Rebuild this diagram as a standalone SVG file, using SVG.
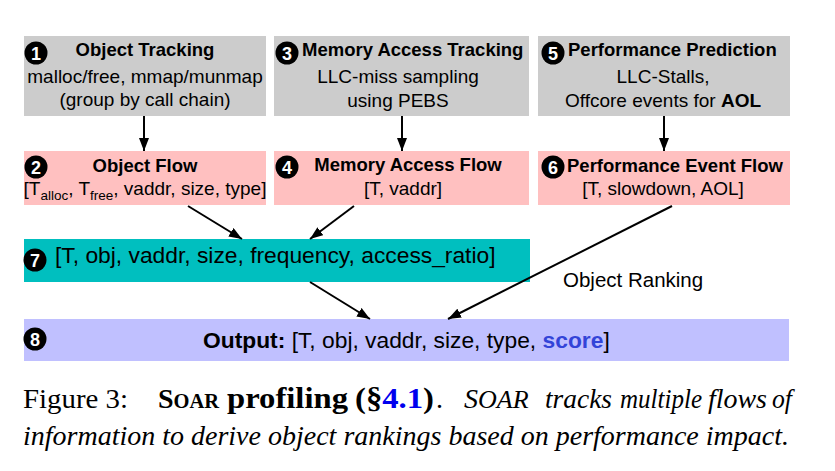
<svg xmlns="http://www.w3.org/2000/svg" width="835" height="471" viewBox="0 0 835 471">
<defs>
<style>
.gray{fill:#cccccc}
.pink{fill:#ffc0c0}
.teal{fill:#00bfbf}
.lav{fill:#c0c0ff}
.t{font-family:"Liberation Sans",Arial,sans-serif;fill:#000}
.title{font-size:18.5px;font-weight:bold}
.body{font-size:19px}
.big{font-size:22.8px}
.num{font-family:"Liberation Sans",Arial,sans-serif;font-size:18px;font-weight:bold;fill:#fff;text-anchor:middle}
.mid{text-anchor:middle}
.cap{font-family:"Liberation Serif","Times New Roman",serif;font-size:28px;fill:#000}
.b{font-weight:bold;font-size:30px}
.i{font-style:italic}
.conn{stroke:#000;stroke-width:2;fill:none;marker-end:url(#ah)}
</style>
<marker id="ah" markerUnits="userSpaceOnUse" markerWidth="14" markerHeight="10" refX="13" refY="5" orient="auto">
<path d="M0,0 L13,5 L0,10 z" fill="#000"/>
</marker>
</defs>
<rect width="835" height="471" fill="#fff"/>

<g id="n1">
<rect class="gray" x="24" y="36" width="242" height="80"/>
<circle cx="36" cy="53" r="11.5" fill="#000"/><text class="num" x="36" y="59.5">1</text>
<text class="t title mid" x="145" y="56">Object Tracking</text>
<text class="t body mid" x="145" y="83">malloc/free, mmap/munmap</text>
<text class="t body mid" x="145" y="106">(group by call chain)</text>
</g>

<g id="n2">
<rect class="pink" x="24" y="151" width="242" height="54"/>
<circle cx="36" cy="167" r="11.5" fill="#000"/><text class="num" x="36" y="173.5">2</text>
<text class="t title mid" x="145" y="172">Object Flow</text>
<text class="t body mid" x="145" y="195">[T<tspan font-size="13.5" dy="5">alloc</tspan><tspan dy="-5">, T</tspan><tspan font-size="13.5" dy="5">free</tspan><tspan dy="-5">, vaddr, size, type]</tspan></text>
</g>

<g id="n3">
<rect class="gray" x="274" y="36" width="255" height="80"/>
<circle cx="287" cy="53" r="11.5" fill="#000"/><text class="num" x="287" y="59.5">3</text>
<text class="t title" x="302" y="56">Memory Access Tracking</text>
<text class="t body mid" x="398" y="83">LLC-miss sampling</text>
<text class="t body mid" x="398" y="107">using PEBS</text>
</g>

<g id="n4">
<rect class="pink" x="274" y="151" width="255" height="54"/>
<circle cx="287" cy="167" r="11.5" fill="#000"/><text class="num" x="287" y="173.5">4</text>
<text class="t title mid" x="408" y="171">Memory Access Flow</text>
<text class="t body mid" x="403" y="195">[T, vaddr]</text>
</g>

<g id="n5">
<rect class="gray" x="538" y="36" width="252" height="80"/>
<circle cx="553" cy="53" r="11.5" fill="#000"/><text class="num" x="553" y="59.5">5</text>
<text class="t title" x="568" y="56">Performance Prediction</text>
<text class="t body mid" x="663" y="83">LLC-Stalls,</text>
<text class="t body mid" x="663" y="107">Offcore events for <tspan font-weight="bold">AOL</tspan></text>
</g>

<g id="n6">
<rect class="pink" x="538" y="151" width="252" height="54"/>
<circle cx="553" cy="167" r="11.5" fill="#000"/><text class="num" x="553" y="173.5">6</text>
<text class="t title" x="567" y="172">Performance Event Flow</text>
<text class="t body mid" x="663" y="195">[T, slowdown, AOL]</text>
</g>

<g id="n7">
<rect class="teal" x="24" y="239" width="506" height="43"/>
<circle cx="35" cy="260" r="11.5" fill="#000"/><text class="num" x="35" y="266.5">7</text>
<text class="t big" x="55" y="263">[T, obj, vaddr, size, frequency, access_ratio]</text>
</g>

<g id="n8">
<rect class="lav" x="24" y="319" width="765" height="42"/>
<circle cx="35" cy="339" r="11.5" fill="#000"/><text class="num" x="35" y="345.5">8</text>
<text class="t big" x="203" y="348"><tspan font-weight="bold">Output:</tspan> [T, obj, vaddr, size, type, <tspan font-weight="bold" fill="#3344d8">score</tspan>]</text>
</g>

<g id="connectors">
<line class="conn" x1="144" y1="116" x2="144" y2="151"/>
<line class="conn" x1="402" y1="116" x2="402" y2="151"/>
<line class="conn" x1="664" y1="116" x2="664" y2="151"/>
<line class="conn" x1="188" y1="206" x2="242" y2="239"/>
<line class="conn" x1="354" y1="206" x2="310" y2="239"/>
<line class="conn" x1="310" y1="282" x2="370" y2="319"/>
<line class="conn" x1="672" y1="206" x2="448" y2="319"/>
<text class="t" x="563" y="287" font-size="20.5px">Object Ranking</text>
</g>

<g id="caption">
<text class="cap" x="23" y="408" textLength="105" lengthAdjust="spacingAndGlyphs">Figure 3:</text>
<text class="cap" font-weight="bold" x="158" y="408">S<tspan font-size="20.5">OAR</tspan></text>
<text class="cap b" x="227" y="408" textLength="121" lengthAdjust="spacingAndGlyphs">profiling</text>
<text class="cap b" x="355" y="408" textLength="79" lengthAdjust="spacingAndGlyphs">(§<tspan fill="#0000ee">4.1</tspan>)</text>
<text class="cap" x="436" y="408">.</text>
<text class="cap i" x="464" y="408">S<tspan font-size="26">OAR</tspan></text>
<text class="cap i" x="545" y="408" textLength="67" lengthAdjust="spacingAndGlyphs">tracks</text>
<text class="cap i" x="620" y="408" textLength="82" lengthAdjust="spacingAndGlyphs">multiple</text>
<text class="cap i" x="708" y="408" textLength="59" lengthAdjust="spacingAndGlyphs">flows</text>
<text class="cap i" x="772" y="408" textLength="20" lengthAdjust="spacingAndGlyphs">of</text>
<text class="cap i" x="23" y="445">information to derive object rankings based on performance impact.</text>
</g>
</svg>
